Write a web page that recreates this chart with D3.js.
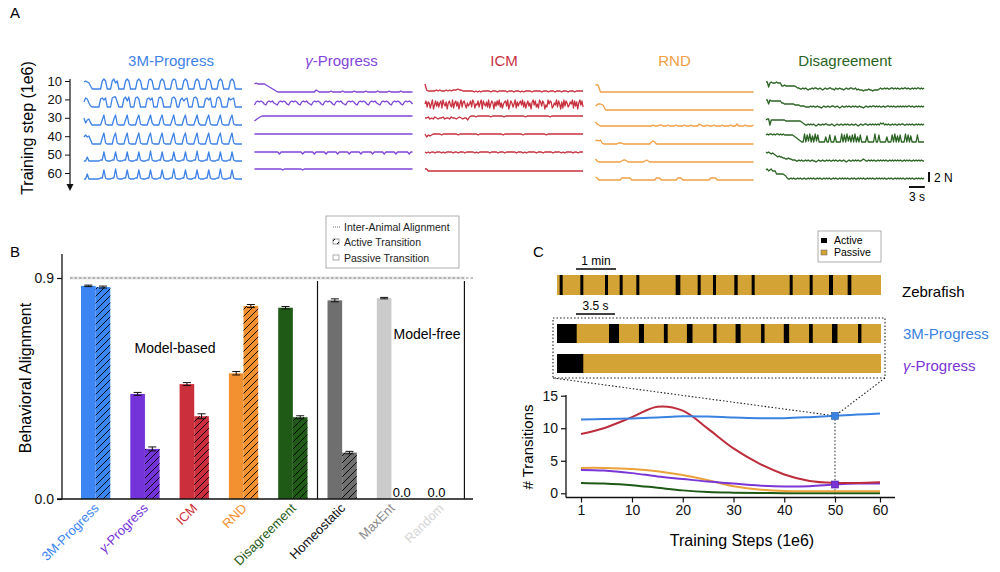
<!DOCTYPE html>
<html><head><meta charset="utf-8">
<script src="https://cdn.jsdelivr.net/npm/d3@7/dist/d3.min.js"></script>
<style>
html,body{margin:0;padding:0;background:#fff;}
svg{display:block;font-family:"Liberation Sans",Arial,Helvetica,sans-serif;}
</style></head><body>
<svg id="fig" width="1000" height="572"></svg>
<script>
// ================= DATA =================
// ---- Panel A: force traces (each character = base-36 value in units of 0.2 N, evenly sampled over 30 s)
const traceModels = ["3M-Progress", "γ-Progress", "ICM", "RND", "Disagreement"];
const traceSteps = [10, 20, 30, 40, 50, 60];
const traceDurationS = 30;
const forceUnitN = 0.2;

const traces3M = [
  "bcba7444444cec444ceac4444cec4444cec4444dec4444cec4444ced4444cec4444cec4444dec4444cec4444cec44444",
  "9dc8544444cdbd444dee9444ceae444dec4444cdbd444dec44444dec44bdacd444dec4444cdbd444dec4444dbcd44444",
  "b69a64444449e54444ae544449e54444ae544449e64444ae544449e54444ae544449e64444ae544449e54444ae544444",
  "acab73333339e43333ae433339e433339e43333ae433339e433339e43333ae433339e433339e43333ae433339e433333",
  "448444444455d544455d544455d544455d544455e544455d544455d544455d544455e544455d544455d544455d544444",
  "449444444455d544455e544455d544455d544455d544455d544455e544455d544455d544455d544455e544455d544444"
];
const tracesGamma = [
  "9a9999987654321111111111111111111111132111111121111112111111211111121111112111111211111121111111",
  "69a9a9769a9a8769a9a9769a9a9769a9a8769a9a9769a9a9769a9a8769a9a9769a9a9769a9a8769a9a9769a9a9769a9a97",
  "8bdddddddddddddddddddddddddddddddddddddddd",
  "dddddddddddddddddddddddddddddddddddddddd",
  "dddddddddddddddbdddddddddddddbddddddbddddddbddddddbddddddbddddddbddddddbddddddbddddddbdddddddbdd",
  "eeeeeeeeeeeeeeeeedeeeeeeeeeeedeeeeeeeeeeeeeeeeeeeeeeeeeeeeeeeeeeeeeeeeeeeeeeeeeeeeeeeeeeeeeeeeee"
];
const tracesICM = [
  "9322222323222323233343322222221212122222122212222212221222121222212222212221222122212221222122222",
  "7a49837b26a5948a3b75928a64b38a5927b49a63857a4b9376a48b2a7594b37a8295a6b48379a5b26a847b3958a6b4937a5829b6a473b95a8264b7a93586b4a7293b5a84697b3a5928b6a4",
  "bbcabacbabbcabbacbbabcbabb9cdddcddddddddcdddddddcddddddddddddcddddddddddddddcdddddddddddddddddddd",
  "dacbcdddddcdddddddddcdddddddddddcddddddddddddddcdddddddddddcdddddddddddddcdddddddddddddddddddddd",
  "dcdcddcdddcdcddddcddcdddcdddddcdcddddddcddddcdddcddddddcdddcdcdddddcdddcdddddcddddcdcddddcddcddd",
  "eecccccccccccccccccccccccccccccccccccccccccccccccccccccccccccccccccccccccccccccccccccccccccccccc"
];
const tracesRND = [
  "8811111111111111111111111111111111111111111111111111111111111111",
  "5776111111111111111111111111111111111111111111111111111111111111",
  "7543333333333333333333333333333333343334433343333433334333433335433343334333343333433353333433334",
  "6767433333333344433333333333333333565333333333333333333333333333333333333333333333333333333333333",
  "6433333333333333455433333333334543333333333333333333333333333333333333333333333333333333333333333",
  "6533333333333333555555333333333333333555333333333355533333333333333333555533333333333333333333333"
];
const tracesDis = [
  "bb6abaaabaaa7787777777765544545434454554454345445544354454434544554453433323334332333345445454455454544545545445454554545",
  "bb7baaaaaaaa8877777777666655554444545445443454454455445434544545445454454434544545545454454455454544545454545545445454545",
  "9aa4999999999998888888888887654454545434544545544454345445445454454454345445544545454546564545445454454554454545445454545",
  "cdcddcdcddcdcdcccccccba987655d5c6d5b5d6c55555a55c555b5555d5c5d6b5c5d5a5c5555b55555d55c55555a555c5d5b5c555d5c5b5555c55555",
  "dcdcbcba98988776676655544545445454454434544544545445454454454345445454544565445454544545454544545454545445454544545454544",
  "decdeccc99999987544545445454454454545445454454545445454454545454454544545454454545445454545445454454545454454545445454545"
];

// ---- Panel B: behavioral alignment
const barCategories = ["3M-Progress", "γ-Progress", "ICM", "RND", "Disagreement", "Homeostatic", "MaxEnt", "Random"];
const passiveVals = [0.868, 0.428, 0.468, 0.512, 0.779, 0.809, 0.818, 0.0];
const passiveErr  = [0.003, 0.006, 0.006, 0.007, 0.005, 0.006, 0.003, 0];
const activeVals  = [0.863, 0.204, 0.337, 0.786, 0.333, 0.189, 0.0, null];
const activeErr   = [0.004, 0.008, 0.010, 0.006, 0.006, 0.005, 0, 0];
const interAnimal = 0.9;
const interAnimalBand = 0.006;
const alignTicks = [0.0, 0.9];

// ---- Panel C: active-bout rasters (start s, duration s) and transition counts
const zebrafishTotalS = 486;
const zebrafishActive = [[4,4.5],[35,4.5],[72,4.5],[94,4.5],[119,4.5],[178,7],[211,4.5],[234,4.5],[266,5],[292,4.5],[349,4.5],[379,4.5],[408,6],[436,5.5]];
const modelTotalS = 29.1;
const active3M = [[0,1.77],[4.67,0.9],[7.36,0.45],[9.6,0.34],[11.67,0.5],[14.03,0.3],[16.04,0.45],[18.33,0.31],[20.37,0.48],[22.64,0.33],[24.7,0.49],[27.04,0.3]];
const activeGamma = [[0,2.36]];

const checkpointSteps = [1, 5, 10, 15, 20, 25, 30, 35, 40, 45, 50, 55, 60];
const stepTicks = [1, 10, 20, 30, 40, 50, 60];
const trans3M    = [11.35, 11.4, 11.5, 11.65, 11.85, 11.8, 11.65, 11.55, 11.55, 11.7, 11.9, 12.1, 12.25];
const transGamma = [3.6, 3.5, 3.1, 2.6, 2.2, 1.8, 1.5, 1.2, 1.05, 1.1, 1.35, 1.5, 1.5];
const transICM   = [9.1, 10.0, 11.7, 13.3, 12.7, 9.9, 6.9, 4.6, 2.9, 1.9, 1.6, 1.6, 1.7];
const transRND   = [3.9, 3.9, 3.75, 3.4, 2.8, 2.0, 1.1, 0.6, 0.35, 0.3, 0.3, 0.3, 0.3];
const transDis   = [1.6, 1.5, 1.25, 0.85, 0.45, 0.2, 0.1, 0.05, 0.02, 0, 0, 0, 0];
const transTicks = [0, 5, 10, 15];
const highlightStep = 50;

// ================= STYLE =================
const traceColors = ["#3f82e6", "#7f45d8", "#c8313f", "#f0a043", "#2b6323"];
const barColors   = ["#3b86f2", "#7433d8", "#cc2f3c", "#f39130", "#1f5b16", "#6f6f6f", "#cbcbcb", "#e0e0e0"];
const labelColors = ["#3b86f2", "#7433d8", "#cc2f3c", "#f39130", "#1f5b16", "#111111", "#8a8a8a", "#d6d6d6"];
const lineColors  = {m3:"#3a82e0", gamma:"#7a35d6", icm:"#bd2d3c", rnd:"#eaa23a", dis:"#1e5a16"};
const tan = "#d4a336";

// ================= DRAW =================
const svg = d3.select("#fig");
const defs = svg.append("defs");
const hatch = defs.append("pattern").attr("id","hatch").attr("patternUnits","userSpaceOnUse")
  .attr("width",7).attr("height",7);
hatch.append("path").attr("d","M-1,1 l2,-2 M0,7 l7,-7 M6,8 l2,-2").attr("stroke","#000").attr("stroke-width",0.9);

function italicGamma(sel, label) {
  if (label.startsWith("γ")) {
    sel.append("tspan").attr("font-style","italic").text("γ");
    sel.append("tspan").text(label.slice(1));
  } else sel.text(label);
}

// ---------- Panel A ----------
svg.append("text").attr("x",10).attr("y",18).attr("font-size",15).text("A");

const colScale = d3.scaleBand().domain(traceModels).range([79, 929]).paddingInner(0.073).paddingOuter(0.029);
const rowScale = d3.scaleLinear().domain([10, 60]).range([93, 183]);
const tickScale = d3.scaleLinear().domain([10, 60]).range([81, 173]);
const forcePx = d3.scaleLinear().domain([0, 2]).range([0, 10]);
const allTraces = [traces3M, tracesGamma, tracesICM, tracesRND, tracesDis];

traceModels.forEach((m, ci) => {
  const x0 = colScale(m);
  const tx = d3.scaleLinear().domain([0, traceDurationS]).range([x0, x0 + colScale.bandwidth()]);
  const t = svg.append("text").attr("x", x0 + colScale.bandwidth()/2 + (ci < 2 ? 8 : 0)).attr("y", 66)
    .attr("text-anchor","middle").attr("font-size",15).attr("fill",traceColors[ci]);
  italicGamma(t, m);
  allTraces[ci].forEach((s, ri) => {
    const pts = Array.from(s).map((ch, i) => ({t: i/(s.length-1)*traceDurationS, f: parseInt(ch,36)*forceUnitN}));
    const line = d3.line().x(d => tx(d.t)).y(d => rowScale(traceSteps[ri]) - forcePx(d.f));
    svg.append("path").attr("d", line(pts)).attr("fill","none")
      .attr("stroke", traceColors[ci]).attr("stroke-width",1.3).attr("stroke-linejoin","round");
  });
});

// y axis A
const axA = svg.append("g").attr("transform","translate(70,0)")
  .call(d3.axisLeft(tickScale).tickValues(traceSteps).tickSize(5).tickPadding(3));
axA.select(".domain").remove();
axA.selectAll("text").attr("font-size",13).attr("font-family",'"Liberation Sans",Arial,sans-serif').attr("fill","#111");
axA.selectAll("line").attr("stroke","#111");
svg.append("line").attr("x1",70).attr("x2",70).attr("y1",79).attr("y2",186).attr("stroke","#111").attr("stroke-width",1.2);
svg.append("path").attr("d","M66.5,184 L73.5,184 L70,191 Z").attr("fill","#111");
svg.append("text").attr("transform","translate(33,128) rotate(-90)").attr("text-anchor","middle")
  .attr("font-size",16).text("Training step (1e6)");

// scale bars A
const lastX0 = colScale(traceModels[4]);
const sbx = d3.scaleLinear().domain([0, traceDurationS]).range([lastX0, lastX0 + colScale.bandwidth()]);
svg.append("line").attr("x1",929).attr("x2",929).attr("y1",182).attr("y2",182 - forcePx(2)).attr("stroke","#111").attr("stroke-width",2);
svg.append("text").attr("x",934).attr("y",182).attr("font-size",12).text("2 N");
svg.append("line").attr("x1",909).attr("x2",909 + sbx(3) - sbx(0)).attr("y1",187).attr("y2",187).attr("stroke","#111").attr("stroke-width",2);
svg.append("text").attr("x",917).attr("y",201).attr("text-anchor","middle").attr("font-size",12).text("3 s");

// ---------- Panel B ----------
svg.append("text").attr("x",10).attr("y",257).attr("font-size",15).text("B");
const yB = d3.scaleLinear().domain([0, 0.9]).range([499, 278]);
const xB = d3.scaleBand().domain(barCategories).range([66, 470.4]).paddingInner(0.406).paddingOuter(0.304);
const xSub = d3.scaleBand().domain(["passive","active"]).range([0, xB.bandwidth()]);

svg.append("rect").attr("x",70).attr("width",395).attr("y", yB(interAnimal + interAnimalBand)).attr("height", yB(interAnimal - interAnimalBand) - yB(interAnimal + interAnimalBand)).attr("fill","#e4e4e4");
svg.append("line").attr("x1",70).attr("x2",473).attr("y1",yB(interAnimal)).attr("y2",yB(interAnimal))
  .attr("stroke","#777").attr("stroke-width",0.9).attr("stroke-dasharray","2.5,2");

[xB("Homeostatic") - (xB.step()-xB.bandwidth())/2, xB("Random") + xB.bandwidth() + (xB.step()-xB.bandwidth())/2 - 1].forEach(x => {
  svg.append("line").attr("x1",x).attr("x2",x).attr("y1",281).attr("y2",499).attr("stroke","#111").attr("stroke-width",1.2);
});

barCategories.forEach((cat, i) => {
  const gx = xB(cat);
  [["passive", passiveVals, passiveErr], ["active", activeVals, activeErr]].forEach(([k, vals, errs]) => {
    const v = vals[i];
    if (v === null) return;
    const x = gx + xSub(k), w = xSub.bandwidth();
    if (v > 0) {
      svg.append("rect").attr("x",x).attr("y",yB(v)).attr("width",w).attr("height",yB(0)-yB(v)).attr("fill",barColors[i]);
      if (k === "active") svg.append("rect").attr("x",x).attr("y",yB(v)).attr("width",w).attr("height",yB(0)-yB(v)).attr("fill","url(#hatch)");
      const e = errs[i], cx = x + w/2;
      svg.append("line").attr("x1",cx).attr("x2",cx).attr("y1",yB(v+e)).attr("y2",yB(v-e)).attr("stroke","#111").attr("stroke-width",1);
      [v+e, v-e].forEach(ev => svg.append("line").attr("x1",cx-4).attr("x2",cx+4).attr("y1",yB(ev)).attr("y2",yB(ev)).attr("stroke","#111").attr("stroke-width",1));
    } else {
      svg.append("text").attr("x", x + w/2 + 3).attr("y", yB(0) - 2).attr("text-anchor","middle").attr("font-size",13).text(d3.format(".1f")(v));
    }
  });
  const lbl = svg.append("text").attr("text-anchor","end").attr("font-size",13).attr("fill",labelColors[i])
    .attr("transform",`translate(${gx + xB.bandwidth()/2 + 4},509) rotate(-45)`);
  italicGamma(lbl, cat);
});

const axB = svg.append("g").attr("transform","translate(62,0)")
  .call(d3.axisLeft(yB).tickValues(alignTicks).tickFormat(d3.format(".1f")).tickSize(5).tickPadding(3));
axB.select(".domain").remove();
axB.selectAll("text").attr("font-size",14).attr("font-family",'"Liberation Sans",Arial,sans-serif').attr("fill","#111");
axB.selectAll("line").attr("stroke","#111").attr("stroke-width",1.2);
svg.append("line").attr("x1",62).attr("x2",62).attr("y1",254).attr("y2",499).attr("stroke","#111").attr("stroke-width",1.3);
svg.append("line").attr("x1",57).attr("x2",473).attr("y1",499).attr("y2",499).attr("stroke","#111").attr("stroke-width",1.3);
svg.append("text").attr("transform","translate(31,378) rotate(-90)").attr("text-anchor","middle").attr("font-size",16).text("Behavioral Alignment");
svg.append("text").attr("x",175).attr("y",353).attr("text-anchor","middle").attr("font-size",14).text("Model-based");
svg.append("text").attr("x",427).attr("y",339).attr("text-anchor","middle").attr("font-size",14).text("Model-free");

svg.append("rect").attr("x",326).attr("y",216).attr("width",133).attr("height",52).attr("fill","#fff").attr("stroke","#999").attr("stroke-width",0.8);
svg.append("line").attr("x1",333).attr("x2",340).attr("y1",227).attr("y2",227).attr("stroke","#777").attr("stroke-dasharray","1,1");
svg.append("rect").attr("x",333).attr("y",239).attr("width",6).attr("height",5).attr("fill","#fff").attr("stroke","#555").attr("stroke-width",0.6);
svg.append("rect").attr("x",333).attr("y",239).attr("width",6).attr("height",5).attr("fill","url(#hatch)");
svg.append("rect").attr("x",333).attr("y",255).attr("width",6).attr("height",5).attr("fill","#fff").attr("stroke","#777").attr("stroke-width",0.6);
[["Inter-Animal Alignment",231],["Active Transition",246],["Passive Transition",262]].forEach(([t,y]) =>
  svg.append("text").attr("x",344).attr("y",y).attr("font-size",10.5).attr("fill","#222").text(t));

// ---------- Panel C ----------
svg.append("text").attr("x",533).attr("y",257).attr("font-size",15).text("C");
const rasterX0 = 557, rasterX1 = 881;
const zx = d3.scaleLinear().domain([0, zebrafishTotalS]).range([rasterX0, rasterX1]);
const mx = d3.scaleLinear().domain([0, modelTotalS]).range([rasterX0, rasterX1]);

function raster(xs, bouts, y0, h, total) {
  svg.append("rect").attr("x",xs(0)).attr("y",y0).attr("width",xs(total)-xs(0)).attr("height",h).attr("fill",tan);
  bouts.forEach(([s, d]) => svg.append("rect").attr("x",xs(s)).attr("y",y0).attr("width",Math.max(2.5, xs(s+d)-xs(s))).attr("height",h).attr("fill","#000"));
}
raster(zx, zebrafishActive, 275, 20, zebrafishTotalS);
raster(mx, active3M, 324, 19, modelTotalS);
raster(mx, activeGamma, 354, 19, modelTotalS);

svg.append("line").attr("x1",576).attr("x2",576 + zx(60) - zx(0)).attr("y1",269).attr("y2",269).attr("stroke","#000").attr("stroke-width",1.6);
svg.append("text").attr("x",576 + (zx(60)-zx(0))/2).attr("y",265).attr("text-anchor","middle").attr("font-size",12).text("1 min");
svg.append("line").attr("x1",576).attr("x2",576 + mx(3.5) - mx(0)).attr("y1",314).attr("y2",314).attr("stroke","#000").attr("stroke-width",1.6);
svg.append("text").attr("x",576 + (mx(3.5)-mx(0))/2).attr("y",310).attr("text-anchor","middle").attr("font-size",12).text("3.5 s");

svg.append("text").attr("x",902).attr("y",297).attr("font-size",15).text("Zebrafish");
svg.append("text").attr("x",903).attr("y",339).attr("font-size",15).attr("fill",lineColors.m3).text("3M-Progress");
italicGamma(svg.append("text").attr("x",903).attr("y",371).attr("font-size",15).attr("fill",lineColors.gamma), "γ-Progress");

svg.append("rect").attr("x",818).attr("y",231).attr("width",63).attr("height",31).attr("fill","#fff").attr("stroke","#999").attr("stroke-width",0.8);
svg.append("rect").attr("x",821).attr("y",238).attr("width",6).attr("height",5).attr("fill","#000");
svg.append("rect").attr("x",821).attr("y",250).attr("width",6).attr("height",5).attr("fill",tan).attr("stroke","#555").attr("stroke-width",0.5);
svg.append("text").attr("x",834).attr("y",244).attr("font-size",10.5).text("Active");
svg.append("text").attr("x",834).attr("y",256).attr("font-size",10.5).text("Passive");

svg.append("rect").attr("x",553).attr("y",318).attr("width",332).attr("height",60).attr("fill","none")
  .attr("stroke","#222").attr("stroke-width",1.1).attr("stroke-dasharray","1.5,2");

const xC = d3.scaleLinear().domain([1, 10, 50, 60]).range([581, 632, 835, 880]);
const yC = d3.scaleLinear().domain([0, 15]).range([493.3, 395.7]);
const hx = xC(highlightStep), hy3 = yC(trans3M[checkpointSteps.indexOf(highlightStep)]), hyG = yC(transGamma[checkpointSteps.indexOf(highlightStep)]);
[[553,378],[885,378]].forEach(([x,y]) => svg.append("line").attr("x1",x).attr("y1",y).attr("x2",hx).attr("y2",hy3)
  .attr("stroke","#222").attr("stroke-width",1.1).attr("stroke-dasharray","1.5,2"));
svg.append("line").attr("x1",hx).attr("x2",hx).attr("y1",hy3).attr("y2",497).attr("stroke","#333").attr("stroke-width",1.1).attr("stroke-dasharray","1.5,2");

const lineC = d3.line().x((d,i) => xC(checkpointSteps[i])).y(d => yC(d)).curve(d3.curveCatmullRom.alpha(0.5));
[[transDis, lineColors.dis],[transRND, lineColors.rnd],[transGamma, lineColors.gamma],[transICM, lineColors.icm],[trans3M, lineColors.m3]]
  .forEach(([vals, col]) => svg.append("path").attr("d", lineC(vals)).attr("fill","none").attr("stroke",col).attr("stroke-width",2));

svg.append("rect").attr("x",hx-3.5).attr("y",hy3-3.5).attr("width",7).attr("height",7).attr("fill",lineColors.m3).attr("stroke","#2a5fb0").attr("stroke-width",0.6);
svg.append("rect").attr("x",hx-3.5).attr("y",hyG-3.5).attr("width",7).attr("height",7).attr("fill",lineColors.gamma).attr("stroke","#4b1f9a").attr("stroke-width",0.6);

const axCy = svg.append("g").attr("transform","translate(566,0)")
  .call(d3.axisLeft(yC).tickValues(transTicks).tickSize(5).tickPadding(3));
axCy.select(".domain").remove();
const axCx = svg.append("g").attr("transform","translate(0,497.5)")
  .call(d3.axisBottom(xC).tickValues(stepTicks).tickSize(5).tickPadding(3));
axCx.select(".domain").remove();
[axCy, axCx].forEach(a => {
  a.selectAll("text").attr("font-size",14).attr("font-family",'"Liberation Sans",Arial,sans-serif').attr("fill","#111");
  a.selectAll("line").attr("stroke","#111").attr("stroke-width",1.2);
});
svg.append("line").attr("x1",566).attr("x2",566).attr("y1",395).attr("y2",497.5).attr("stroke","#111").attr("stroke-width",1.3);
svg.append("line").attr("x1",566).attr("x2",895).attr("y1",497.5).attr("y2",497.5).attr("stroke","#111").attr("stroke-width",1.3);
svg.append("text").attr("transform","translate(533,447) rotate(-90)").attr("text-anchor","middle").attr("font-size",15).text("# Transitions");
svg.append("text").attr("x",742).attr("y",546).attr("text-anchor","middle").attr("font-size",16).text("Training Steps (1e6)");
</script>
</body></html>
